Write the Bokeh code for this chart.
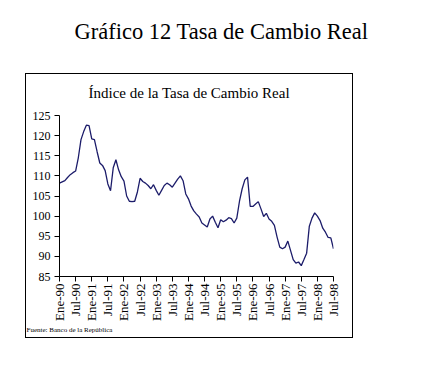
import math
from bokeh.plotting import figure
from bokeh.models import FixedTicker, Range1d, Title, InlineStyleSheet
from bokeh.embed import file_html
from bokeh.resources import INLINE

# ---- data (monthly, Ene-90 .. Jul-98) ----
tcr_values = [
    108.2, 108.5, 108.8, 109.6, 110.3, 110.8, 111.2, 114.5, 119.0, 121.0,
    122.6, 122.5, 119.2, 119.0, 116.0, 113.2, 112.6, 111.3, 108.0, 106.3,
    112.0, 114.0, 111.5, 109.8, 108.7, 105.0, 103.7, 103.6, 103.7, 106.0,
    109.4, 108.6, 108.2, 107.6, 106.8, 107.8, 106.4, 105.2, 106.4, 107.6,
    108.2, 107.8, 107.2, 108.2, 109.2, 110.0, 108.8, 105.5, 104.3, 102.5,
    101.3, 100.5, 99.8, 98.3, 97.8, 97.3, 99.3, 100.0, 98.5, 97.1,
    99.1, 98.6, 99.0, 99.6, 99.4, 98.3, 99.5, 103.7, 106.8, 109.0,
    109.7, 102.4, 102.4, 103.0, 103.6, 101.8, 99.9, 100.7, 99.3, 98.7,
    97.7, 94.8, 92.3, 91.9, 92.3, 93.8, 91.5, 89.2, 88.3, 88.6,
    87.7, 89.2, 90.8, 97.5, 99.5, 100.8, 100.0, 98.9, 97.0, 96.0,
    94.7, 94.6, 91.9,
]
months = list(range(len(tcr_values)))
tick_labels = ["Ene-90", "Jul-90", "Ene-91", "Jul-91", "Ene-92", "Jul-92",
               "Ene-93", "Jul-93", "Ene-94", "Jul-94", "Ene-95", "Jul-95",
               "Ene-96", "Jul-96", "Ene-97", "Jul-97", "Ene-98", "Jul-98"]
y_ticks = [85, 90, 95, 100, 105, 110, 115, 120, 125]
main_title = "Gráfico 12 Tasa de Cambio Real"
chart_title = "Índice de la Tasa de Cambio Real"
source_text = "Fuente: Banco de la República"

FONT = "Liberation Serif"

box_css = InlineStyleSheet(css="""
:host { position: relative; }
:host::after {
  content: ""; position: absolute; left: 25px; top: 73px;
  width: 328px; height: 265px; box-sizing: border-box;
  border: 1.5px solid black; pointer-events: none;
}
""")

p = figure(width=411, height=354, output_backend="svg", toolbar_location=None,
           x_range=Range1d(0, len(tcr_values) - 1), y_range=Range1d(85, 125),
           min_border_left=59, min_border_right=78, min_border_top=115,
           min_border_bottom=78, background_fill_color="white",
           border_fill_color="white", stylesheets=[box_css])
p.outline_line_color = None
p.grid.visible = False

p.line(months, tcr_values, line_color="#1c1c6a", line_width=1.3)

tick_pos = [i * 6 for i in range(len(tick_labels))]
p.xaxis.ticker = FixedTicker(ticks=tick_pos)
p.xaxis.major_label_overrides = {t: lab for t, lab in zip(tick_pos, tick_labels)}
p.xaxis.major_label_orientation = math.pi / 2
p.yaxis.ticker = FixedTicker(ticks=y_ticks)

for ax in (p.xaxis, p.yaxis):
    ax.axis_line_color = "black"
    ax.axis_line_width = 1
    ax.major_tick_line_color = "black"
    ax.major_tick_in = 0
    ax.major_tick_out = 5
    ax.minor_tick_line_color = None
    ax.major_label_text_font = FONT
    ax.major_label_text_color = "black"
p.yaxis.major_label_text_font_size = "12px"
p.yaxis.major_label_standoff = 4
p.xaxis.major_label_text_font_size = "13px"
p.xaxis.major_label_standoff = 2

p.add_layout(Title(text=chart_title, align="left", offset=29,
                   text_font=FONT, text_font_size="15px",
                   text_font_style="normal", text_color="black",
                   standoff=29), "above")
# thin spacer between the chart title and the page title
p.add_layout(Title(text=" ", text_font_size="1px", standoff=12), "above")
p.add_layout(Title(text=main_title, align="left", offset=15,
                   text_font=FONT, text_font_size="22.5px",
                   text_font_style="normal", text_color="black",
                   standoff=20), "above")
p.add_layout(Title(text=source_text, align="left", offset=-33,
                   vertical_align="top",
                   text_font=FONT, text_font_size="7px",
                   text_font_style="normal", text_color="black",
                   standoff=3), "below")

open("out.html", "w").write(file_html(p, INLINE))
